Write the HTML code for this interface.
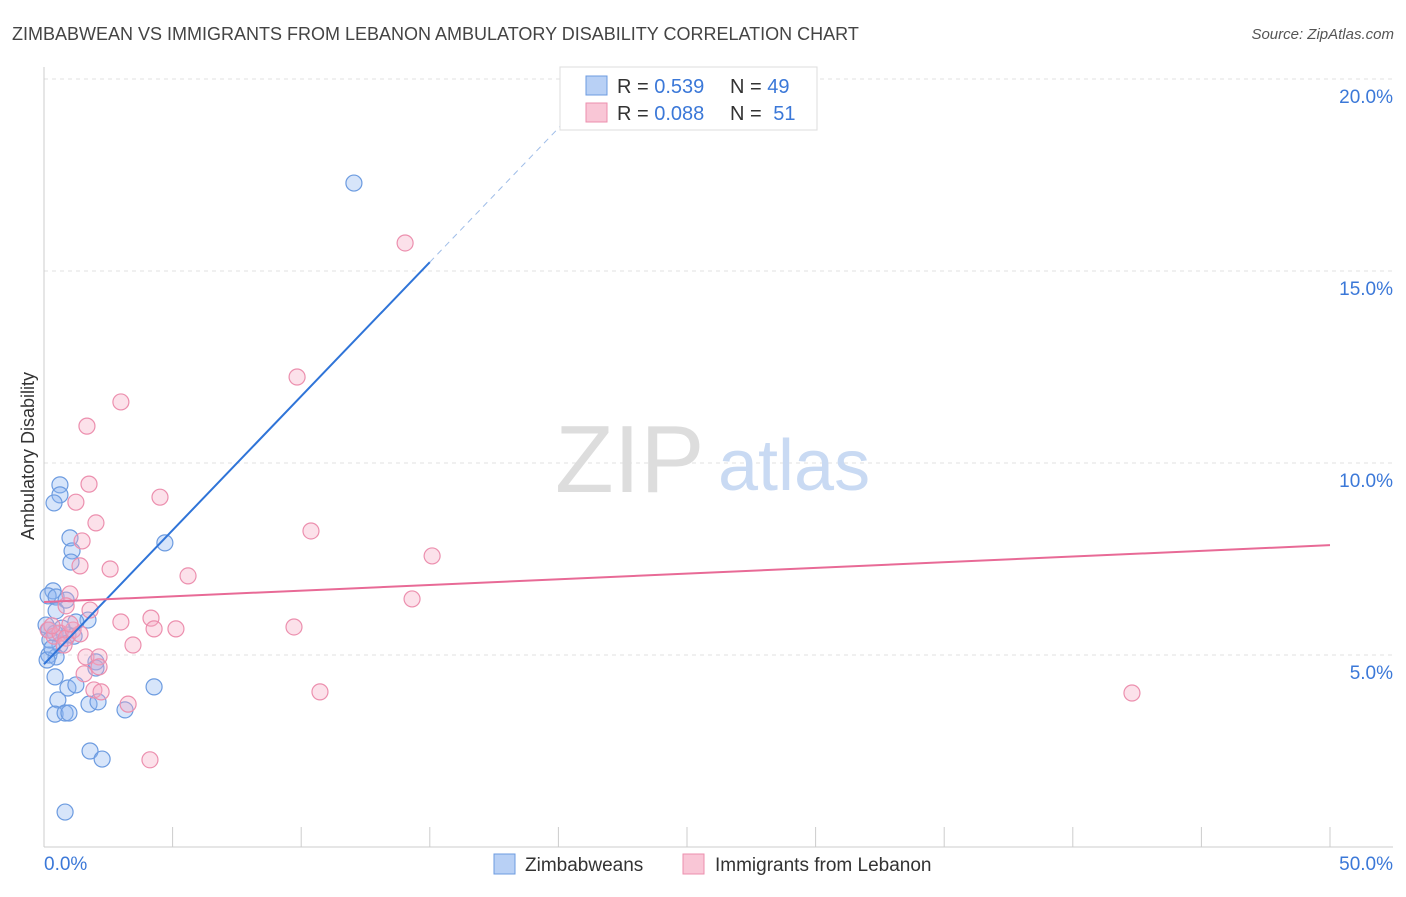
<!DOCTYPE html>
<html><head><meta charset="utf-8"><style>
body{margin:0;background:#fff;font-family:"Liberation Sans",sans-serif;}
svg text{font-family:"Liberation Sans",sans-serif;}
</style></head><body>
<svg id="chart" width="1406" height="892" xmlns="http://www.w3.org/2000/svg">
<text x="12" y="40" font-size="18" fill="#444">ZIMBABWEAN VS IMMIGRANTS FROM LEBANON AMBULATORY DISABILITY CORRELATION CHART</text>
<text x="1394" y="39" font-size="15" fill="#555" font-style="italic" text-anchor="end">Source: ZipAtlas.com</text>
<text transform="translate(34,456) rotate(-90)" font-size="18" fill="#333" text-anchor="middle">Ambulatory Disability</text>
<g id="grid"></g>
<g id="axes"></g>
<text x="555" y="492" font-size="96" fill="#ddd" font-family="Liberation Serif">ZIP</text>
<text x="718" y="490" font-size="72" fill="#c9daf3">atlas</text>
<g id="pts"></g>
<g id="lines"></g>
<g>
<rect x="560" y="67" width="257" height="63" fill="#fff" stroke="#ddd"/>
<rect x="586" y="76" width="21" height="19" fill="#b8d0f5" stroke="#6c9be0"/>
<rect x="586" y="103" width="21" height="19" fill="#f9c6d6" stroke="#ec8fae"/>
<text x="617" y="93" font-size="20" fill="#333">R = <tspan fill="#3b78d8">0.539</tspan><tspan x="730">N = </tspan><tspan fill="#3b78d8">49</tspan></text>
<text x="617" y="120" font-size="20" fill="#333">R = <tspan fill="#3b78d8">0.088</tspan><tspan x="730">N = </tspan><tspan fill="#3b78d8" dx="6">51</tspan></text>
</g>
<g>
<rect x="494" y="854" width="21" height="20" fill="#b8d0f5" stroke="#6c9be0"/>
<text x="525" y="871" font-size="19" fill="#333">Zimbabweans</text>
<rect x="683" y="854" width="21" height="20" fill="#f9c6d6" stroke="#ec8fae"/>
<text x="715" y="871" font-size="19" fill="#333">Immigrants from Lebanon</text>
</g>
</svg>
<script>
const blueX=[12.05,0.62,0.62,0.39,1.01,1.09,1.05,4.70,0.35,0.16,0.47,0.86,0.47,1.71,1.24,0.19,0.43,0.93,1.17,0.62,0.19,0.47,0.12,2.02,2.02,0.43,0.93,1.24,4.28,0.54,1.75,2.10,3.15,0.43,0.82,0.97,1.79,2.26,0.82,0.23,0.31,0.08,0.70];
const blueY=[17.29,9.43,9.17,8.96,8.05,7.71,7.42,7.92,6.67,6.54,6.51,6.43,6.15,5.91,5.86,5.65,5.57,5.52,5.49,5.26,5.0,4.95,4.87,4.82,4.66,4.43,4.14,4.22,4.17,3.83,3.72,3.78,3.57,3.46,3.49,3.49,2.5,2.29,0.91,5.39,5.18,5.78,5.70];
const pinkX=[14.04,9.84,2.99,1.67,1.75,1.24,4.51,2.02,10.38,1.48,15.09,1.40,2.57,5.60,1.01,14.31,0.86,1.79,4.16,2.99,4.28,5.13,9.72,3.46,0.16,0.39,0.62,0.86,1.13,1.40,0.78,1.63,2.14,2.14,1.56,1.94,2.22,10.73,42.30,3.27,4.12,0.31,1.01];
const pinkY=[15.73,12.24,11.59,10.96,9.45,8.98,9.11,8.44,8.23,7.97,7.58,7.32,7.24,7.06,6.59,6.46,6.28,6.17,5.96,5.86,5.68,5.68,5.73,5.26,5.65,5.49,5.57,5.44,5.65,5.55,5.26,4.95,4.95,4.69,4.51,4.09,4.04,4.04,4.01,3.72,2.27,5.76,5.81];
const yTicks=[5,10,15,20];
const yTickLabels=["5.0%","10.0%","15.0%","20.0%"];
const blueTrend=[4.76,0.698]; // intercept, slope per %
const pinkTrend=[6.38,7.86]; // y at 0%, y at 50%
const NS="http://www.w3.org/2000/svg";
const sx=v=>44+v*25.72, sy=v=>847-v*38.4;
function mk(t,a,p){const e=document.createElementNS(NS,t);for(const k in a)e.setAttribute(k,a[k]);p.appendChild(e);return e;}
const grid=document.getElementById('grid'),axes=document.getElementById('axes');
yTicks.forEach((t,i)=>{
 const l=mk('line',{x1:44,x2:1393,y1:sy(t),y2:sy(t),stroke:'#e2e2e2','stroke-dasharray':'4,4'},grid);
 
 
 const tx=mk('text',{x:1393,y:sy(t)+24,'font-size':19,fill:'#3b78d8','text-anchor':'end'},axes);
 tx.textContent=yTickLabels[i];
 
 
});
mk('line',{x1:44,x2:44,y1:67,y2:847,stroke:'#ccc'},axes);
mk('line',{x1:44,x2:1393,y1:847,y2:847,stroke:'#ccc'},axes);
for(let i=0;i<=10;i++){const t=mk('line',{x1:sx(i*5),x2:sx(i*5),y1:827,y2:847,stroke:'#ccc'},axes);
 
 }
let a=mk('text',{x:44,y:870,'font-size':19,fill:'#3b78d8'},axes);a.textContent='0.0%';


a=mk('text',{x:1393,y:870,'font-size':19,fill:'#3b78d8','text-anchor':'end'},axes);a.textContent='50.0%';


const pts=document.getElementById('pts');
blueX.forEach((x,i)=>{const c=mk('circle',{cx:sx(x),cy:sy(blueY[i]),r:8,fill:'rgba(140,180,240,0.35)',stroke:'#6c9be0','stroke-width':1.2},pts);
 
 });
pinkX.forEach((x,i)=>{const c=mk('circle',{cx:sx(x),cy:sy(pinkY[i]),r:8,fill:'rgba(245,170,195,0.35)',stroke:'#ec8fae','stroke-width':1.2},pts);
 
 });
const lines=document.getElementById('lines');
let l=mk('line',{x1:sx(0),y1:sy(blueTrend[0]),x2:sx(15),y2:sy(blueTrend[0]+15*blueTrend[1]),stroke:'#2f74d8','stroke-width':2},lines);


l=mk('line',{x1:sx(15),y1:sy(blueTrend[0]+15*blueTrend[1]),x2:sx(20.5),y2:sy(blueTrend[0]+20.5*blueTrend[1]),stroke:'#9fbde8','stroke-width':1,'stroke-dasharray':'6,5'},lines);


l=mk('line',{x1:sx(0),y1:sy(pinkTrend[0]),x2:sx(50),y2:sy(pinkTrend[1]),stroke:'#e86a96','stroke-width':2},lines);


</script>
</body></html>
